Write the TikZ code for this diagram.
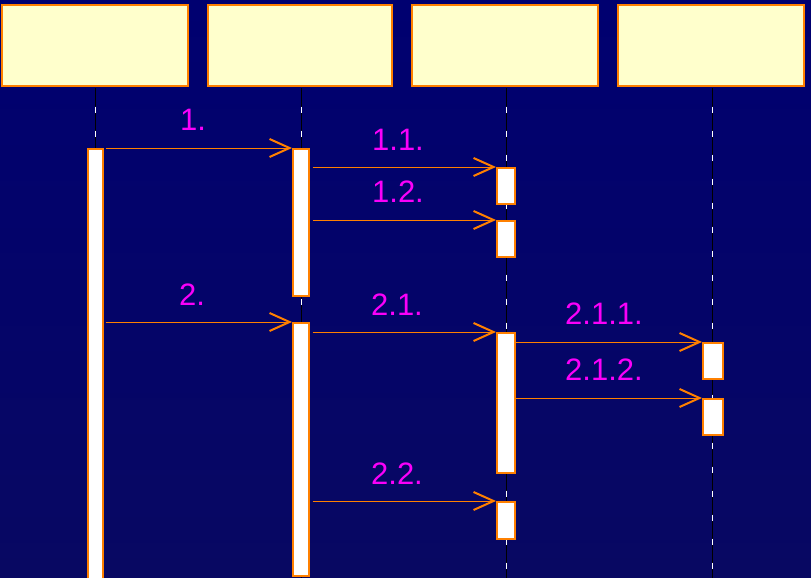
\documentclass[tikz,border=0pt]{standalone}
\usepackage{fontspec}
\setmainfont{Liberation Sans}
\usetikzlibrary{arrows.meta}
\definecolor{bgtop}{RGB}{0,0,112}
\definecolor{bgbot}{RGB}{8,8,98}
\definecolor{boxfill}{RGB}{255,255,204}
\definecolor{uorange}{RGB}{255,128,0}
\definecolor{lblmag}{RGB}{250,0,250}
\tikzset{
  objbox/.style={draw=uorange, fill=boxfill, line width=1.5pt},
  actbar/.style={draw=uorange, fill=white, line width=1.5pt},
  lifeblack/.style={draw=black, line width=1pt},
  lifewhite/.style={draw=white, line width=1pt, dash pattern=on 6pt off 18pt},
  msg/.style={draw=uorange, line width=1pt, -{Straight Barb[length=20pt,width=18pt,line width=2pt]}},
  lbl/.style={text=lblmag, font=\fontsize{31}{31}\selectfont, inner sep=0pt}
}
\begin{document}
\begin{tikzpicture}[x=1pt,y=-1pt]
\useasboundingbox (0,0) rectangle (811,578);
\shade[top color=bgtop, bottom color=bgbot] (0,0) rectangle (811,578);
% object boxes
\draw[objbox] (2,5) rectangle (188,86);
\draw[objbox] (208,5) rectangle (392,86);
\draw[objbox] (412,5) rectangle (598,86);
\draw[objbox] (618,5) rectangle (804,86);
% lifelines
\foreach \xx/\nm in {95/1,301/2,506/3,712/4}{
  \coordinate (top\nm) at (\xx,88);
  \coordinate (bot\nm) at (\xx,578);
  \draw[lifeblack] (top\nm) -- (bot\nm);
  \draw[lifewhite] (\xx,106.7) -- (bot\nm);
}
% activation bars
\node[actbar, inner sep=0pt, minimum width=15pt, minimum height=440pt, anchor=north west] (a1) at (87,148) {};
\node[actbar, inner sep=0pt, minimum width=16pt, minimum height=147pt, anchor=north west] (a2a) at (292,148) {};
\node[actbar, inner sep=0pt, minimum width=16pt, minimum height=253pt, anchor=north west] (a2b) at (292,322) {};
\node[actbar, inner sep=0pt, minimum width=18pt, minimum height=36pt, anchor=north west] (a3a) at (496,167) {};
\node[actbar, inner sep=0pt, minimum width=18pt, minimum height=36pt, anchor=north west] (a3b) at (496,220) {};
\node[actbar, inner sep=0pt, minimum width=18pt, minimum height=140pt, anchor=north west] (a3c) at (496,332) {};
\node[actbar, inner sep=0pt, minimum width=18pt, minimum height=37pt, anchor=north west] (a3d) at (496,501) {};
\node[actbar, inner sep=0pt, minimum width=20pt, minimum height=36pt, anchor=north west] (a4a) at (702,342) {};
\node[actbar, inner sep=0pt, minimum width=20pt, minimum height=36pt, anchor=north west] (a4b) at (702,398) {};
% messages
\draw[msg] ([xshift=2pt]a1.north east) -- (a2a.north west);
\draw[msg] ([xshift=3pt]a2a.east |- a3a.north) -- (a3a.north west);
\draw[msg] ([xshift=3pt]a2a.east |- a3b.north) -- (a3b.north west);
\draw[msg] ([xshift=2pt]a1.east |- a2b.north) -- (a2b.north west);
\draw[msg] ([xshift=3pt]a2b.east |- a3c.north) -- (a3c.north west);
\draw[msg] (a3c.east |- a4a.north) -- (a4a.north west);
\draw[msg] (a3c.east |- a4b.north) -- (a4b.north west);
\draw[msg] ([xshift=3pt]a2b.east |- a3d.north) -- (a3d.north west);
% labels
\node[lbl] (l1) at (193,120) {1.};
\node[lbl] (l11) at (398,139.5) {1.1.};
\node[lbl] (l12) at (398,192) {1.2.};
\node[lbl] (l2) at (192,295) {2.};
\node[lbl] (l21) at (397,304.5) {2.1.};
\node[lbl] (l211) at (604,314) {2.1.1.};
\node[lbl] (l212) at (604,370) {2.1.2.};
\node[lbl] (l22) at (397,474) {2.2.};
\end{tikzpicture}
\end{document}
